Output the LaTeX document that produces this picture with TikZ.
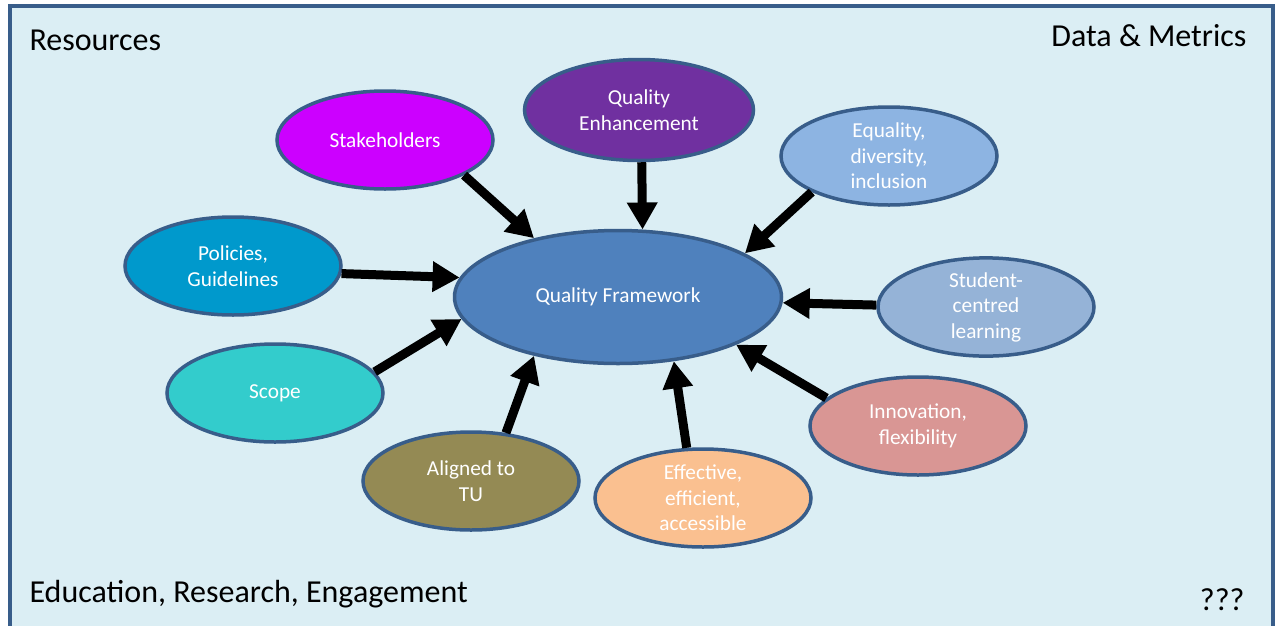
\documentclass[tikz,border=0pt]{standalone}
\usepackage{fontspec}
\setmainfont{Carlito}
\usetikzlibrary{shapes.geometric,arrows.meta}

\definecolor{edge}{HTML}{385D8A}
\definecolor{paper}{HTML}{DBEEF4}
\definecolor{qfblue}{HTML}{4F81BD}
\definecolor{stakecol}{HTML}{CC00FF}
\definecolor{qecol}{HTML}{7030A0}
\definecolor{edicol}{HTML}{8DB4E2}
\definecolor{polcol}{HTML}{0099CC}
\definecolor{sclcol}{HTML}{95B3D7}
\definecolor{scopecol}{HTML}{33CCCC}
\definecolor{tucol}{HTML}{948A54}
\definecolor{eeacol}{HTML}{FAC090}
\definecolor{innocol}{HTML}{D99694}

\tikzset{
  bubble/.style={ellipse, draw=edge, line width=3.5pt, text=white, align=center,
    inner sep=0pt, minimum width=216pt, minimum height=98pt,
    font=\fontsize{21.3}{25.5}\selectfont},
  arr/.style={line width=9pt, -{Triangle[length=27pt,width=29pt]}},
  corner/.style={font=\fontsize{32}{37}\selectfont}
}

\begin{document}
\begin{tikzpicture}[x=1pt, y=-1pt]
      \useasboundingbox (0,0) rectangle (1278,625);
      \clip (0,0) rectangle (1278,625);
      \fill[white] (0,0) rectangle (1278,625);

      % Frame
      \draw[edge, fill=paper, line width=3.5pt] (10,6) rectangle (1273,660);

      % Corner labels
      \node[corner, anchor=base west] (res) at (26,50) {Resources};
      \node[corner, anchor=base east] (dat) at (1250,46) {Data \& Metrics};
      \node[corner, anchor=base west] (edu) at (26,602) {Education, Research, Engagement};
      \node[corner, anchor=base east] (unk) at (1248,610) {???};

      % Centre
      \node[bubble, fill=qfblue, minimum width=327pt, minimum height=133pt] (qf) at (618,297) {Quality Framework};

      % Surrounding bubbles
      \node[bubble, fill=stakecol] (stake) at (385,140) {Stakeholders};
      \node[bubble, fill=qecol, minimum width=229pt, minimum height=101pt] (qe) at (639,110) {Quality\\Enhancement};
      \node[bubble, fill=edicol] (edi) at (889,156) {Equality,\\diversity,\\inclusion};
      \node[bubble, fill=polcol] (pol) at (233,266) {Policies,\\Guidelines};
      \node[bubble, fill=sclcol] (scl) at (986,307) {Student-\\centred\\learning};
      \node[bubble, fill=scopecol] (scope) at (275,393) {Scope};
      \node[bubble, fill=tucol] (tu) at (471,481) {Aligned to\\TU};
      \node[bubble, fill=eeacol] (eea) at (703,498) {Effective,\\efficient,\\accessible};
      \node[bubble, fill=innocol] (inno) at (918,426) {Innovation,\\flexibility};

      % Arrows into the centre
      \foreach \src/\a/\b in {stake/-24/145, qe/-87/70, edi/205/19.5, pol/-4/173,
                              scl/179/-2, scope/12/188, tu/54/215, eea/108/311, inno/163.5/-22}
        \draw[arr] (\src.\a) -- (qf.\b);
\end{tikzpicture}
\end{document}
